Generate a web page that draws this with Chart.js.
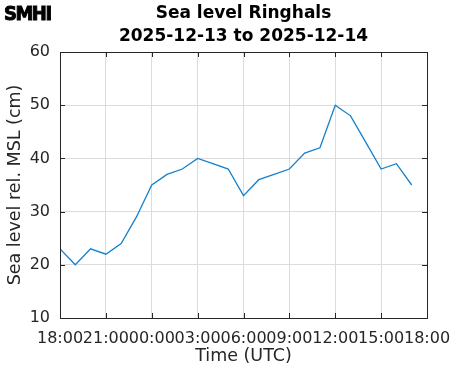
<!DOCTYPE html>
<html>
<head>
<meta charset="utf-8">
<script src="https://cdn.jsdelivr.net/npm/chart.js@4/dist/chart.umd.min.js"></script>
<style>
  html, body { margin: 0; padding: 0; background: #fff; }
  #wrap { position: relative; width: 471px; height: 371px; }
  #logo {
    position: absolute; left: 4px; top: 1px;
    font-family: "DejaVu Sans Condensed", "DejaVu Sans", sans-serif;
    font-weight: bold; font-size: 20px; letter-spacing: -1.5px; color: #000;
    -webkit-text-stroke: 0.9px #000;
  }
</style>
</head>
<body>
<div id="wrap">
  <canvas id="sea-level-chart" width="471" height="371"></canvas>
  <div id="logo">SMHI</div>
</div>
<script>
// Hours after 2025-12-13 18:00 UTC
const hourOffsets = [0, 1, 2, 3, 4, 5, 6, 7, 8, 9, 10, 11, 12, 13, 14, 15, 16, 17, 18, 19, 20, 21, 22, 23];
// Sea level (cm) relative to MSL
const seaLevel = [23, 20, 23, 22, 24, 29, 35, 37, 38, 40, 39, 38, 33, 36, 37, 38, 41, 42, 50, 48, 43, 38, 39, 35];
// Tick labels, every 3 hours
const timeTicks = ['18:00', '21:00', '00:00', '03:00', '06:00', '09:00', '12:00', '15:00', '18:00'];
const levelTicks = [10, 20, 30, 40, 50, 60];

const axisColor = '#262626';

// MATLAB style box with inward ticks
const boxPlugin = {
    id: 'boxTicks',
    afterDatasetsDraw: function(chart) {
        const ctx = chart.ctx;
        const a = chart.chartArea;
        const xs = chart.scales.x;
        const ys = chart.scales.y;
        const len = 5;
        ctx.save();
        ctx.strokeStyle = axisColor;
        ctx.lineWidth = 1;
        ctx.beginPath();
        xs.ticks.forEach(function(t) {
            const px = Math.round(xs.getPixelForValue(t.value)) + 0.5;
            ctx.moveTo(px, a.bottom); ctx.lineTo(px, a.bottom - len);
            ctx.moveTo(px, a.top); ctx.lineTo(px, a.top + len);
        });
        ys.ticks.forEach(function(t) {
            const py = Math.round(ys.getPixelForValue(t.value)) + 0.5;
            ctx.moveTo(a.left, py); ctx.lineTo(a.left + len, py);
            ctx.moveTo(a.right, py); ctx.lineTo(a.right - len, py);
        });
        ctx.stroke();
        ctx.strokeRect(Math.round(a.left) + 0.5, Math.round(a.top) + 0.5,
                       Math.round(a.right - a.left), Math.round(a.bottom - a.top));
        ctx.restore();
    }
};

new Chart(document.getElementById('sea-level-chart'), {
    type: 'line',
    data: {
        datasets: [{
            data: hourOffsets.map(function(h, i) { return { x: h, y: seaLevel[i] }; }),
            borderColor: 'rgb(20, 128, 205)',
            borderWidth: 1.3,
            pointRadius: 0,
            tension: 0,
            fill: false
        }]
    },
    options: {
        responsive: false,
        animation: false,
        layout: { padding: { left: 0, right: 44, top: 0, bottom: 0 } },
        plugins: {
            legend: { display: false },
            tooltip: { enabled: false },
            title: {
                display: true,
                fullSize: false,
                text: ['Sea level Ringhals', '2025-12-13 to 2025-12-14'],
                color: '#000',
                font: { family: 'DejaVu Sans', size: 17, weight: 'bold', lineHeight: 23 / 17 },
                padding: { top: 2, bottom: 4 }
            }
        },
        scales: {
            x: {
                type: 'linear',
                min: 0,
                max: 24,
                afterFit: function(s) { s.height = 53; },
                afterBuildTicks: function(s) {
                    s.ticks = timeTicks.map(function(l, i) { return { value: i * 3 }; });
                },
                ticks: {
                    autoSkip: false,
                    maxRotation: 0,
                    padding: 11,
                    color: axisColor,
                    font: { family: 'DejaVu Sans', size: 16 },
                    callback: function(v) { return timeTicks[v / 3]; }
                },
                grid: { color: '#dcdcdc', drawTicks: false },
                border: { display: false },
                title: {
                    display: true,
                    text: 'Time (UTC)',
                    color: axisColor,
                    font: { family: 'DejaVu Sans', size: 17.5 },
                    padding: { top: 0, bottom: 4 }
                }
            },
            y: {
                min: 10,
                max: 60,
                afterFit: function(s) { s.width = 60; },
                afterBuildTicks: function(s) {
                    s.ticks = levelTicks.map(function(v) { return { value: v }; });
                },
                ticks: {
                    padding: 10,
                    color: axisColor,
                    font: { family: 'DejaVu Sans', size: 16 }
                },
                grid: { color: '#dcdcdc', drawTicks: false },
                border: { display: false },
                title: {
                    display: true,
                    text: 'Sea level rel. MSL (cm)',
                    color: axisColor,
                    font: { family: 'DejaVu Sans', size: 17.5 },
                    padding: { top: 5, bottom: 0 }
                }
            }
        }
    },
    plugins: [boxPlugin]
});
</script>
</body>
</html>
